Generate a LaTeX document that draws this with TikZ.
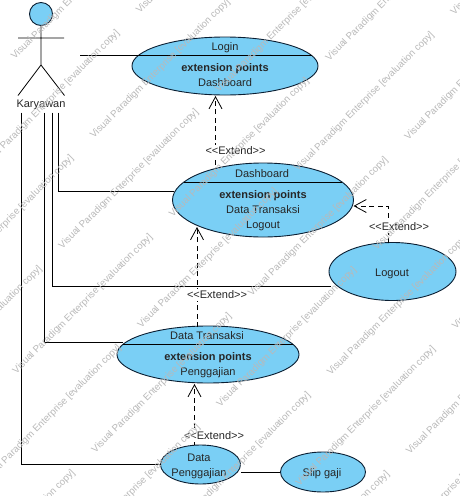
\documentclass[tikz,border=0pt]{standalone}
\usepackage{fontspec}
\setmainfont{Liberation Sans}
\usetikzlibrary{arrows.meta,shapes.geometric}
\definecolor{ucfill}{RGB}{122,207,245}
\definecolor{ucline}{RGB}{10,30,50}
\definecolor{wmgrey}{RGB}{185,185,185}
\newcommand{\extendtext}{<{}<Extend>{}>}
\tikzset{
  uc/.style={ellipse,draw=ucline,fill=ucfill,line width=0.9pt,inner sep=0pt},
  conn/.style={draw=black,line width=0.8pt},
  ext/.style={draw=black,line width=0.8pt,dash pattern=on 5pt off 3.5pt,-{Straight Barb[length=12pt,width=13pt,line width=0.8pt]}},
  lab/.style={font=\fontsize{11}{13}\selectfont,text=black!85,inner sep=0pt,text height=8pt,text depth=2.5pt,yshift=-1.6pt},
  blab/.style={lab,font=\fontsize{11}{13}\selectfont\bfseries},
  extlab/.style={lab,fill=white,text height=9pt,text depth=3pt,yshift=-0.8pt},
  wm/.style={font=\fontsize{9.7}{11}\selectfont,text=wmgrey,rotate=45,anchor=west,inner sep=0pt}
}
\begin{document}
\begin{tikzpicture}[x=1pt,y=-1pt]
\useasboundingbox[fill=white] (0,0) rectangle (459,496);
% use cases
\node[uc,minimum width=186pt,minimum height=58pt] (login) at (225,66) {};
\node[uc,minimum width=181pt,minimum height=74pt] (dash) at (263,200) {};
\node[uc,minimum width=182pt,minimum height=57pt] (trans) at (208,354.5) {};
\node[uc,minimum width=127pt,minimum height=58pt] (logout) at (392.5,271.5) {};
\node[uc,minimum width=80pt,minimum height=39pt] (gaji) at (200.5,464.5) {};
\node[uc,minimum width=85pt,minimum height=40pt] (slip) at (323,472) {};
% actor
\node[circle,draw=ucline,fill=ucfill,line width=0.9pt,minimum size=23pt,inner sep=0pt] (head) at (41,14) {};
\coordinate (neck) at (41,38);
\coordinate (hip) at (41,65);
\coordinate (armL) at (18,38);
\coordinate (armR) at (64,38);
\coordinate (legL) at (18,95.5);
\coordinate (legR) at (64.5,95.5);
\draw[conn] (head.south) -- (hip) (armL) -- (armR) (legL) -- (hip) -- (legR);
\node[lab] (actor) at (41,103) {Karyawan};
% free ends under the actor
\coordinate (a1) at (21.7,112.5);
\coordinate (a2) at (44.5,112.5);
\coordinate (a3) at (52.3,112.5);
\coordinate (a4) at (58.5,112.5);
\coordinate (a0) at (80,55.5);
\coordinate (loginL) at (139,55.5);
\coordinate (loginR) at (312,55.5);
\coordinate (dashL) at (184,182.5);
\coordinate (dashR) at (342,182.5);
\coordinate (transL) at (123,344);
\coordinate (transR) at (293,344);
\coordinate (dashW) at (173.5,191.3);
\coordinate (transW) at (123,342.3);
\coordinate (logoutW) at (331,286);
\coordinate (gajiW) at (161,464);
\draw[conn] (a0) -- (loginL);
\draw[conn] (loginL) -- (loginR);
\draw[conn] (dashL) -- (dashR);
\draw[conn] (transL) -- (transR);
\draw[conn] (a1) |- (gajiW);
\draw[conn] (a2) |- (transW);
\draw[conn] (a3) |- (logoutW);
\draw[conn] (a4) |- (dashW);
\draw[conn] (gaji.east |- slip.west) -- (slip.west);
% extend connectors
\coordinate (e1s) at (215.5,165);
\coordinate (e1t) at (215.5,96);
\coordinate (e2s) at (197,327);
\coordinate (e2t) at (197,227);
\coordinate (e3s) at (194.5,445);
\coordinate (e3t) at (194.5,384);
\coordinate (e4s) at (388,243);
\coordinate (e4t) at (353.5,206);
\draw[ext] (e1s) -- (e1t);
\draw[ext] (e2s) -- (e2t);
\draw[ext] (e3s) -- (e3t);
\draw[ext] (e4s) |- (e4t);
\node[extlab] (x1) at (235.5,149) {\extendtext};
\node[extlab,minimum width=80pt] (x2) at (217,293) {\extendtext};
\node[extlab] (x3) at (214,434) {\extendtext};
\node[extlab] (x4) at (399,225) {\extendtext};
% use case texts
\node[lab] (t1) at (225,46) {Login};
\node[blab] (t2) at (225,67) {extension points};
\node[lab] (t3) at (225,82) {Dashboard};
\node[lab] (t4) at (262,173) {Dashboard};
\node[blab] (t5) at (263,194) {extension points};
\node[lab] (t6) at (263,209) {Data Transaksi};
\node[lab] (t7) at (263,224) {Logout};
\node[lab] (t8) at (392,272) {Logout};
\node[lab] (t9) at (207,335) {Data Transaksi};
\node[blab] (t10) at (208,356) {extension points};
\node[lab] (t11) at (208,371) {Penggajian};
\node[lab] (t12) at (199,457) {Data};
\node[lab] (t13) at (199,472) {Penggajian};
\node[lab] (t14) at (322,472) {Slip gaji};
% watermark
\begin{scope}
\clip (0,0) rectangle (459,496);
\foreach \k in {0,...,11}{
  \foreach \m in {-3,...,2}{
    \pgfmathsetmacro{\s}{71+79*\k}
    \pgfmathsetmacro{\d}{(mod(\k,2)==0 ? -45 : 126)+313*\m}
    \node[wm] (wm\k x\m) at ({(\s+\d)/2},{(\s-\d)/2}) {Visual Paradigm Enterprise [evaluation copy]};
  }
}
\end{scope}
\end{tikzpicture}
\end{document}
